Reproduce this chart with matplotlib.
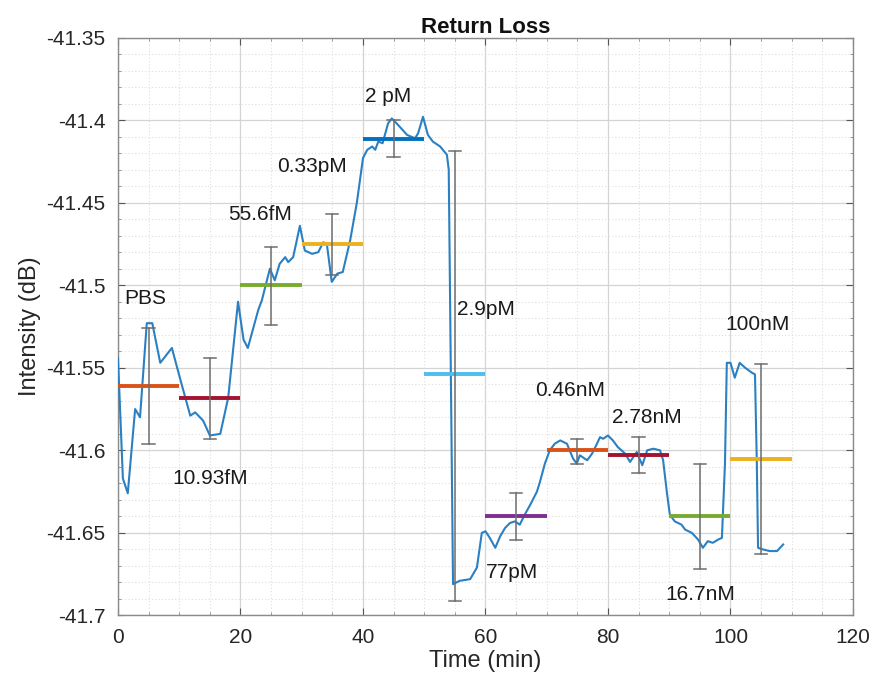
import matplotlib
matplotlib.use("Agg")
import matplotlib.pyplot as plt
from matplotlib.ticker import MultipleLocator

plt.rcParams['font.family'] = ['Liberation Sans', 'DejaVu Sans']

# ---- data ----
time_min = [0, 0.8, 1.6, 2.8, 3.6, 4.7, 5.6, 6.9, 8.8, 10.1, 11.8, 12.6, 13.9, 15.0, 16.7,
            18.0, 19.6, 20.5, 21.2, 22.9, 23.5, 24.8, 25.6, 26.4, 27.3, 27.8, 28.6, 29.7,
            30.5, 31.7, 32.7, 33.5, 34.1, 34.9, 35.8, 36.7, 37.9, 39.0, 40.0, 40.7, 41.5,
            42.0, 42.5, 43.2, 44.1, 44.7, 45.5, 47.2, 48.5, 49.0, 49.8, 50.6, 51.4, 52.6,
            53.7, 54.0, 54.7, 55.8, 57.5, 58.6, 59.4, 60.0, 60.7, 61.6, 62.4, 63.2, 64.0,
            64.8, 65.6, 66.4, 67.3, 68.4, 68.9, 69.7, 70.5, 71.3, 72.2, 73.3, 74.3, 74.9,
            75.4, 76.6, 77.4, 78.2, 78.7, 79.2, 80.0, 80.8, 81.6, 82.8, 83.6, 84.7, 85.6,
            86.4, 87.4, 88.5, 89.0, 89.6, 90.1, 90.9, 92.0, 92.6, 93.7, 94.7, 95.5, 96.3,
            97.1, 98.0, 98.6, 99.1, 99.4, 100.0, 100.7, 101.5, 102.4, 103.5, 104.0, 104.3,
            104.5, 105.3, 106.4, 107.6, 108.6]
intensity_db = [-41.544, -41.617, -41.626, -41.575, -41.580, -41.523, -41.523, -41.547, -41.538,
                -41.556, -41.579, -41.577, -41.582, -41.591, -41.590, -41.568, -41.510, -41.533,
                -41.538, -41.515, -41.509, -41.490, -41.497, -41.487, -41.483, -41.486, -41.483,
                -41.464, -41.479, -41.481, -41.480, -41.474, -41.475, -41.498, -41.493, -41.492,
                -41.473, -41.450, -41.423, -41.418, -41.416, -41.418, -41.413, -41.414, -41.402,
                -41.399, -41.402, -41.409, -41.411, -41.408, -41.398, -41.409, -41.413, -41.416,
                -41.421, -41.430, -41.681, -41.679, -41.678, -41.671, -41.650, -41.649, -41.653,
                -41.659, -41.652, -41.647, -41.644, -41.643, -41.645, -41.639, -41.633, -41.625,
                -41.619, -41.608, -41.600, -41.596, -41.594, -41.596, -41.605, -41.608, -41.603,
                -41.606, -41.602, -41.596, -41.592, -41.593, -41.591, -41.594, -41.598, -41.602,
                -41.607, -41.601, -41.609, -41.600, -41.599, -41.600, -41.606, -41.625, -41.639,
                -41.643, -41.645, -41.648, -41.650, -41.654, -41.659, -41.655, -41.656, -41.654,
                -41.653, -41.608, -41.547, -41.547, -41.556, -41.547, -41.550, -41.553, -41.554,
                -41.608, -41.659, -41.660, -41.661, -41.661, -41.657]

labels = ['PBS', '10.93fM', '55.6fM', '0.33pM', '2 pM', '2.9pM', '77pM', '0.46nM',
          '2.78nM', '16.7nM', '100nM']
seg_start = [0, 10, 20, 30, 40, 50, 60, 70, 80, 90, 100]
seg_end = [10, 20, 30, 40, 50, 60, 70, 80, 90, 100, 110]
seg_mean = [-41.561, -41.568, -41.500, -41.475, -41.4116, -41.554, -41.640, -41.600,
            -41.603, -41.640, -41.605]
err_x = [5, 15, 25, 35, 45, 55, 65, 75, 85, 95, 105]
err_lo = [-41.596, -41.593, -41.524, -41.494, -41.4225, -41.691, -41.654, -41.608,
          -41.614, -41.672, -41.663]
err_hi = [-41.526, -41.544, -41.477, -41.457, -41.400, -41.419, -41.626, -41.593,
          -41.592, -41.608, -41.548]
label_x = [4.4, 15.0, 23.2, 31.7, 44.1, 60.0, 64.3, 73.8, 86.4, 95.0, 104.5]
label_y = [-41.508, -41.617, -41.457, -41.428, -41.386, -41.515, -41.674, -41.564,
           -41.580, -41.687, -41.524]
seg_colors = ['#D95319', '#A2142F', '#77AC30', '#EDB120', '#0072BD', '#4DBEEE',
              '#7E2F8E', '#D95319', '#A2142F', '#77AC30', '#EDB120']

fig = plt.figure(figsize=(8.72, 6.91), dpi=100)
ax = fig.add_axes([0.1353, 0.1093, 0.8429, 0.8364])

ax.plot(time_min, intensity_db, color='#2a80c2', lw=1.5, zorder=3)

for i in range(len(labels)):
    ax.plot([seg_start[i], seg_end[i]], [seg_mean[i], seg_mean[i]],
            color=seg_colors[i], lw=2.8, zorder=4, solid_capstyle='butt')
    ax.plot([err_x[i], err_x[i]], [err_lo[i], err_hi[i]], color='#6e6e6e', lw=1.1, zorder=5)
    for yy in (err_lo[i], err_hi[i]):
        ax.plot([err_x[i] - 1.0, err_x[i] + 1.0], [yy, yy], color='#6e6e6e', lw=1.1, zorder=5)
    ax.text(label_x[i], label_y[i], labels[i], ha='center', va='center',
            fontsize=15, color='#1a1a1a', zorder=6)

ax.set_xlim(0, 120)
ax.set_ylim(-41.7, -41.35)
ax.xaxis.set_major_locator(MultipleLocator(20))
ax.xaxis.set_minor_locator(MultipleLocator(5))
ax.yaxis.set_major_locator(MultipleLocator(0.05))
ax.yaxis.set_minor_locator(MultipleLocator(0.01))
ax.set_yticks([-41.7, -41.65, -41.6, -41.55, -41.5, -41.45, -41.4, -41.35])
ax.set_yticklabels(['-41.7', '-41.65', '-41.6', '-41.55', '-41.5', '-41.45', '-41.4', '-41.35'])

ax.grid(which='major', color='#d4d4d4', lw=0.9, ls='-', zorder=0)
ax.grid(which='minor', color='#dedede', lw=0.8, ls=(0, (1, 2)), zorder=0)
ax.set_axisbelow(True)

for s in ax.spines.values():
    s.set_color('#8a8a8a')
    s.set_linewidth(1.0)
ax.tick_params(which='major', direction='in', length=5, width=0.8, color='#555555',
               top=True, right=True, labelsize=15, labelcolor='#262626', pad=9)
ax.tick_params(which='minor', direction='in', length=2.5, width=0.6, color='#888888',
               top=True, right=True)

ax.set_xlabel('Time (min)', fontsize=17, color='#262626', labelpad=2)
ax.set_ylabel('Intensity (dB)', fontsize=17, color='#262626', labelpad=4)
ax.set_title('Return Loss', fontsize=16, fontweight='bold', color='#111111', pad=3)

fig.savefig('out.png', dpi=100, facecolor='white')
